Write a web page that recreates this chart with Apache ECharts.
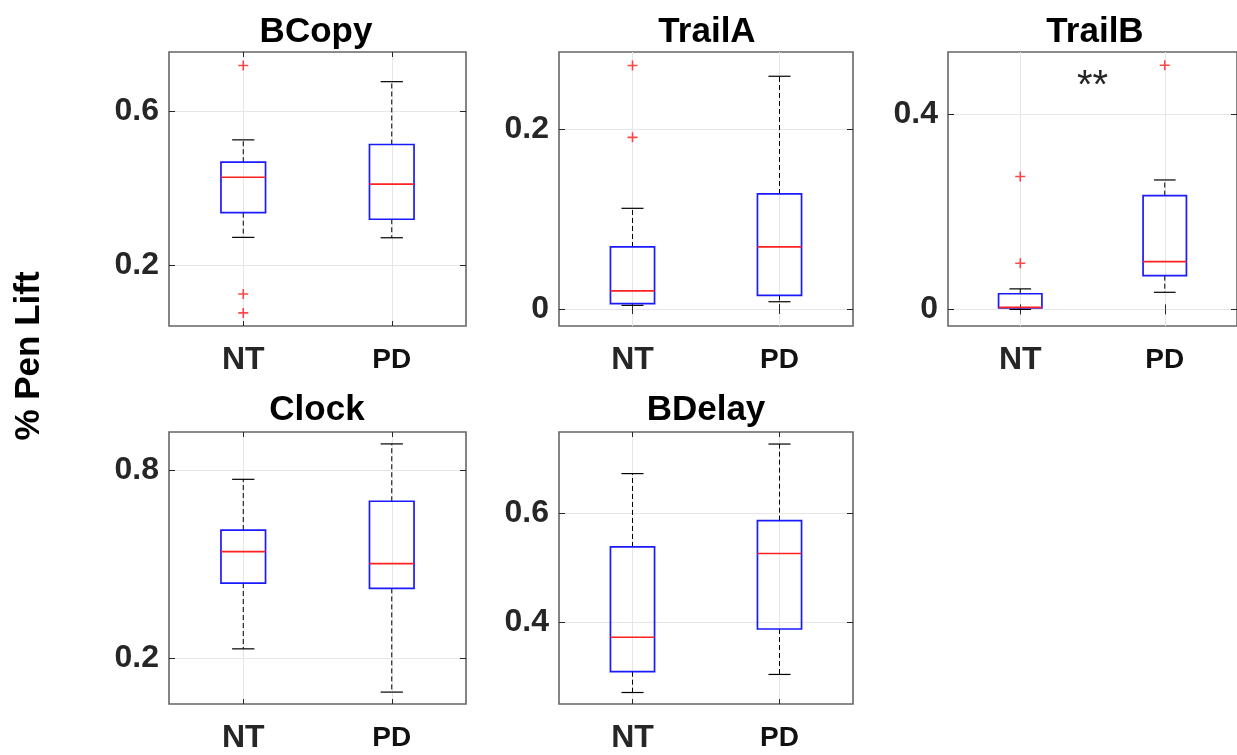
<!DOCTYPE html>
<html>
<head>
<meta charset="utf-8">
<script src="https://cdn.jsdelivr.net/npm/echarts@6/dist/echarts.min.js"></script>
<style>
  html, body { margin: 0; padding: 0; background: #fff; }
  #chart { width: 1237px; height: 755px; }
</style>
</head>
<body>
<div id="chart"></div>
<script>
// Pen lift boxplots, NT vs PD, one panel per task
const groups = ['NT', 'PD'];
const tasks = ['BCopy', 'TrailA', 'TrailB', 'Clock', 'BDelay'];

// each box: [lower whisker, Q1, median, Q3, upper whisker]
const bcopyNT = [0.272, 0.336, 0.428, 0.467, 0.525];
const bcopyPD = [0.271, 0.319, 0.410, 0.513, 0.676];
const trailaNT = [0.004, 0.006, 0.020, 0.069, 0.112];
const trailaPD = [0.008, 0.015, 0.069, 0.128, 0.259];
const trailbNT = [0.000, 0.003, 0.004, 0.032, 0.042];
const trailbPD = [0.035, 0.069, 0.098, 0.233, 0.265];
const clockNT = [0.230, 0.440, 0.540, 0.609, 0.771];
const clockPD = [0.092, 0.423, 0.502, 0.701, 0.884];
const bdelayNT = [0.272, 0.310, 0.373, 0.538, 0.672];
const bdelayPD = [0.305, 0.388, 0.526, 0.586, 0.726];

// outliers: [group index, value]
const bcopyOut = [[0, 0.718], [0, 0.125], [0, 0.076]];
const trailaOut = [[0, 0.271], [0, 0.191]];
const trailbOut = [[0, 0.272], [0, 0.0945], [1, 0.500]];
const clockOut = [];
const bdelayOut = [];

// y axis ranges and tick labels
const yMin = [0.042, -0.019, -0.034, 0.054, 0.251];
const yMax = [0.753, 0.286, 0.527, 0.922, 0.748];
const bcopyTicks = [0.2, 0.6];
const trailaTicks = [0, 0.2];
const trailbTicks = [0, 0.4];
const clockTicks = [0.2, 0.8];
const bdelayTicks = [0.4, 0.6];

// significance mark in TrailB
const trailbSig = [[0.5, 0.456, '**']];

const boxes = [[bcopyNT, bcopyPD], [trailaNT, trailaPD], [trailbNT, trailbPD], [clockNT, clockPD], [bdelayNT, bdelayPD]];
const outliers = [bcopyOut, trailaOut, trailbOut, clockOut, bdelayOut];
const ticks = [bcopyTicks, trailaTicks, trailbTicks, clockTicks, bdelayTicks];

const FONT = '"Liberation Sans", Arial, Helvetica, sans-serif';
const AXIS_COLOR = '#262626';
const GRID_LINE = '#e6e6e6';

const layout = [
  { left: 169, top: 52, width: 297, height: 274 },
  { left: 559, top: 52, width: 294, height: 274 },
  { left: 948, top: 52, width: 294, height: 274 },
  { left: 169, top: 432, width: 297, height: 272 },
  { left: 559, top: 432, width: 294, height: 272 }
];
const titlePos = [[316, 32], [707, 32], [1095, 32], [317, 410], [706, 410]];

function renderBox(params, api) {
  const ci = api.value(0);
  const lo = api.coord([ci, api.value(1)]);
  const q1 = api.coord([ci, api.value(2)]);
  const med = api.coord([ci, api.value(3)]);
  const q3 = api.coord([ci, api.value(4)]);
  const hi = api.coord([ci, api.value(5)]);
  const band = api.size([1, 0])[0];
  const bw = band * 0.3;
  const cw = bw * 0.5;
  const x = q1[0];
  const dash = { stroke: '#000', lineWidth: 1, lineDash: [5, 3] };
  const cap = { stroke: '#000', lineWidth: 1.2 };
  return {
    type: 'group',
    children: [
      { type: 'line', shape: { x1: x, y1: q3[1], x2: x, y2: hi[1] }, style: dash },
      { type: 'line', shape: { x1: x, y1: q1[1], x2: x, y2: lo[1] }, style: dash },
      { type: 'line', shape: { x1: x - cw / 2, y1: hi[1], x2: x + cw / 2, y2: hi[1] }, style: cap },
      { type: 'line', shape: { x1: x - cw / 2, y1: lo[1], x2: x + cw / 2, y2: lo[1] }, style: cap },
      { type: 'rect', shape: { x: x - bw / 2, y: q3[1], width: bw, height: q1[1] - q3[1] },
        style: { fill: 'none', stroke: '#1a1aff', lineWidth: 1.7 } },
      { type: 'line', shape: { x1: x - bw / 2, y1: med[1], x2: x + bw / 2, y2: med[1] },
        style: { stroke: '#ff2020', lineWidth: 1.7 } }
    ]
  };
}

function renderSig(params, api) {
  const a = api.coord([0, api.value(1)]);
  const b = api.coord([1, api.value(1)]);
  return {
    type: 'text',
    x: (a[0] + b[0]) / 2,
    y: a[1],
    style: {
      text: api.value(2),
      fontSize: 40,
      fontFamily: FONT,
      fill: AXIS_COLOR,
      align: 'center',
      verticalAlign: 'middle'
    }
  };
}

const n = tasks.length;
const grid = layout.map(g => Object.assign({}, g, {
  show: true, borderColor: '#666', borderWidth: 1.6, backgroundColor: '#fff'
}));

const xAxis = [];
const yAxis = [];
const series = [];
for (let i = 0; i < n; i++) {
  xAxis.push({
    type: 'category', gridIndex: i, data: groups, position: 'bottom',
    axisLine: { show: false },
    axisTick: { show: true, inside: true, alignWithLabel: true, length: 5, lineStyle: { color: AXIS_COLOR } },
    axisLabel: {
      margin: 16,
      formatter: v => v === 'NT' ? '{nt|NT}' : '{pd|PD}',
      rich: {
        nt: { fontSize: 32, fontWeight: 'bold', fontFamily: FONT, color: AXIS_COLOR, lineHeight: 36 },
        pd: { fontSize: 28, fontWeight: 'bold', fontFamily: FONT, color: '#111', lineHeight: 36 }
      }
    },
    splitLine: { show: true, alignWithLabel: true, lineStyle: { color: GRID_LINE, width: 1 } }
  });
  yAxis.push({
    type: 'value', gridIndex: i, min: yMin[i], max: yMax[i], position: 'left',
    axisLine: { show: false },
    axisTick: { show: true, inside: true, length: 6, customValues: ticks[i], lineStyle: { color: AXIS_COLOR } },
    axisLabel: {
      customValues: ticks[i], margin: 10,
      fontSize: 32, fontWeight: 'bold', fontFamily: FONT, color: AXIS_COLOR
    },
    splitLine: { show: true, lineStyle: { color: GRID_LINE, width: 1 } }
  });
}
for (let i = 0; i < n; i++) {
  // top and right ticks of the axes box
  xAxis.push({
    type: 'category', gridIndex: i, data: groups, position: 'top',
    axisLine: { show: false }, axisLabel: { show: false }, splitLine: { show: false },
    axisTick: { show: true, inside: true, alignWithLabel: true, length: 5, lineStyle: { color: AXIS_COLOR } }
  });
  yAxis.push({
    type: 'value', gridIndex: i, min: yMin[i], max: yMax[i], position: 'right',
    axisLine: { show: false }, axisLabel: { show: false }, splitLine: { show: false },
    axisTick: { show: true, inside: true, length: 6, customValues: ticks[i], lineStyle: { color: AXIS_COLOR } }
  });
}

for (let i = 0; i < n; i++) {
  series.push({
    type: 'custom', name: tasks[i], xAxisIndex: i, yAxisIndex: i,
    renderItem: renderBox, silent: true,
    encode: { x: 0, y: [1, 2, 3, 4, 5] },
    data: boxes[i].map((b, k) => [k].concat(b)),
    z: 3
  });
  series.push({
    type: 'scatter', xAxisIndex: i, yAxisIndex: i, silent: true,
    symbol: 'path://M4.2,0H5.8V4.2H10V5.8H5.8V10H4.2V5.8H0V4.2H4.2Z',
    symbolSize: 10,
    itemStyle: { color: '#ff1a1a' },
    data: outliers[i],
    z: 4
  });
}
series.push({
  type: 'custom', xAxisIndex: 2, yAxisIndex: 2, silent: true,
  renderItem: renderSig,
  encode: { x: 0, y: 1 },
  data: trailbSig,
  z: 5
});

const graphic = tasks.map((t, i) => ({
  type: 'text', x: titlePos[i][0], y: titlePos[i][1],
  style: {
    text: t, fill: '#000', fontSize: 35, fontWeight: 'bold', fontFamily: FONT,
    align: 'center', verticalAlign: 'middle', textAlign: 'center', textVerticalAlign: 'middle'
  }
}));
graphic.push({
  type: 'text', x: 29, y: 356, rotation: Math.PI / 2,
  style: {
    text: '% Pen Lift', fill: '#000', fontSize: 35, fontWeight: 'bold', fontFamily: FONT,
    align: 'center', verticalAlign: 'middle', textAlign: 'center', textVerticalAlign: 'middle'
  }
});

const chart = echarts.init(document.getElementById('chart'), null, { renderer: 'canvas' });
chart.setOption({
  animation: false,
  backgroundColor: '#fff',
  grid: grid,
  xAxis: xAxis,
  yAxis: yAxis,
  series: series,
  graphic: graphic
});
</script>
</body>
</html>
